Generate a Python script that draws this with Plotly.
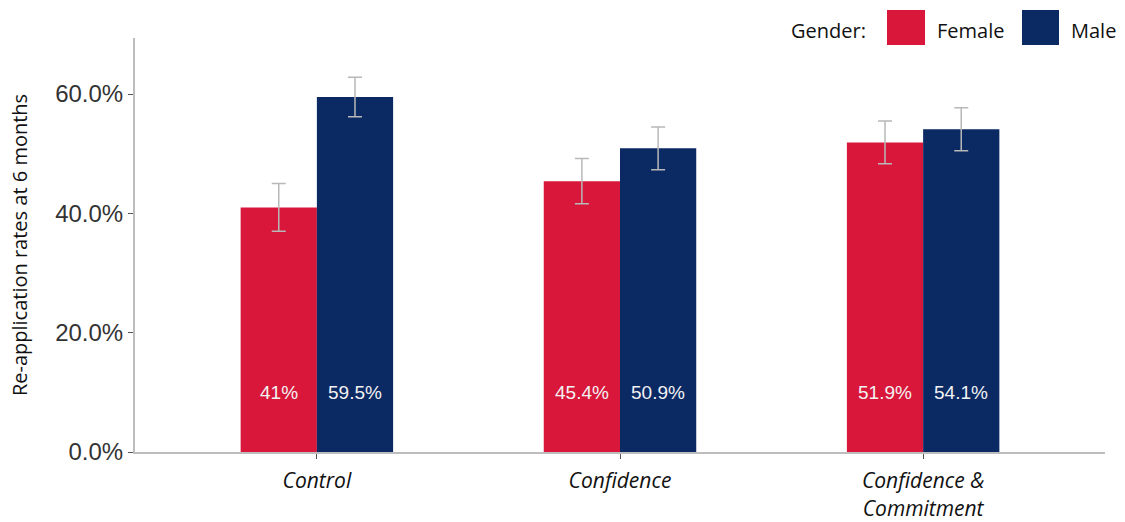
import plotly.graph_objects as go

categories = ["Control", "Confidence", "Confidence &<br>Commitment"]
female = [41.0, 45.4, 51.9]
male = [59.5, 50.9, 54.1]
female_err = [4.0, 3.8, 3.6]
male_err = [3.3, 3.6, 3.6]
female_labels = ["41%", "45.4%", "51.9%"]
male_labels = ["59.5%", "50.9%", "54.1%"]
y_ticks = [0, 20, 40, 60]
y_ticklabels = ["0.0%", "20.0%", "40.0%", "60.0%"]

RED = "#d8173b"
NAVY = "#0b2963"
ERR = "#b8b8b8"
AXIS = "#bdbdbd"

W, H = 1125, 522
ML, MR, MT, MB = 135, 20, 38, 70
PW, PH = W - ML - MR, H - MT - MB


def px(xp):
    return (xp - ML) / PW


def py(yp):
    return (H - MB - yp) / PH


x_idx = list(range(len(categories)))

fig = go.Figure()
fig.add_trace(go.Bar(
    x=x_idx, y=female, name="Female", marker=dict(color=RED, line=dict(width=0)),
    error_y=dict(type="data", array=female_err, color=ERR, thickness=1.5, width=7),
    showlegend=False,
))
fig.add_trace(go.Bar(
    x=x_idx, y=male, name="Male", marker=dict(color=NAVY, line=dict(width=0)),
    error_y=dict(type="data", array=male_err, color=ERR, thickness=1.5, width=7),
    showlegend=False,
))

annotations = []
lab_font = dict(family="Liberation Sans, Arial", size=19, color="#f2f2f2")
for i in x_idx:
    annotations.append(dict(x=i, y=10, xref="x", yref="y", text=female_labels[i], showarrow=False,
                            xshift=-38, font=lab_font))
    annotations.append(dict(x=i, y=10, xref="x", yref="y", text=male_labels[i], showarrow=False,
                            xshift=38, font=lab_font))

# custom legend
legend_font = dict(family="Open Sans, Noto Sans", size=20, color="#111111")
for label, cx in [("Gender:", 828), ("Female", 970), ("Male", 1093)]:
    annotations.append(dict(x=px(cx), y=py(31), xref="paper", yref="paper", text=label,
                            showarrow=False, font=legend_font, xanchor="center", yanchor="middle"))

shapes = [
    dict(type="rect", xref="paper", yref="paper", x0=px(887), x1=px(925),
         y0=py(45), y1=py(10), fillcolor=RED, line=dict(width=0)),
    dict(type="rect", xref="paper", yref="paper", x0=px(1022), x1=px(1059),
         y0=py(45), y1=py(10), fillcolor=NAVY, line=dict(width=0)),
]

fig.update_layout(
    width=W, height=H,
    margin=dict(l=ML, r=MR, t=MT, b=MB, autoexpand=False),
    paper_bgcolor="white", plot_bgcolor="white",
    barmode="group", bargap=0.497, bargroupgap=0,
    annotations=annotations, shapes=shapes,
    font=dict(family="Open Sans, Noto Sans", color="#111111"),
)
fig.update_xaxes(
    range=[-0.6, 2.6], tickmode="array", tickvals=x_idx,
    ticktext=[f"<i>{c}</i>" for c in categories],
    tickfont=dict(family="Open Sans, Noto Sans", size=21, color="#111111"),
    showline=True, linecolor=AXIS, linewidth=2, ticks="outside", ticklen=5, tickcolor="#555555",
    tickwidth=1, showgrid=False, zeroline=False, fixedrange=True, ticklabelstandoff=4,
)
fig.update_yaxes(
    range=[0, 69.4], tickmode="array", tickvals=y_ticks, ticktext=y_ticklabels,
    tickfont=dict(family="Liberation Sans, Arial", size=24, color="#333333"),
    showline=True, linecolor=AXIS, linewidth=2, ticks="outside", ticklen=5, tickcolor="#555555",
    tickwidth=1, showgrid=False, zeroline=False,
    title=dict(text="Re-application rates at 6 months", font=dict(family="Open Sans, Noto Sans", size=20, color="#111111"),
               standoff=22),
)

fig.write_html("out.html")
